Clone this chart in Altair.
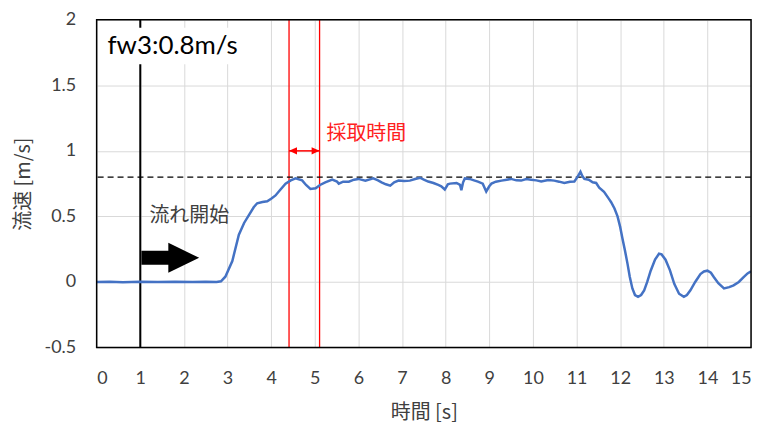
import altair as alt
import pandas as pd

# ---- data ----
t = [0, 0.3, 0.6, 1.0, 1.4, 1.8, 2.2, 2.5, 2.75, 2.85,
     2.95, 3.11, 3.26, 3.38, 3.49, 3.6, 3.68, 3.8, 3.91, 4.0,
     4.1, 4.2, 4.33, 4.45, 4.56, 4.71, 4.8, 4.9, 5.02, 5.12,
     5.24, 5.4, 5.51, 5.55, 5.65, 5.78, 5.9, 6.0, 6.16, 6.34,
     6.45, 6.53, 6.63, 6.73, 6.82, 6.92, 7.05, 7.18, 7.3, 7.41,
     7.5, 7.6, 7.72, 7.83, 7.9, 7.98, 8.05, 8.1, 8.25, 8.33,
     8.36, 8.4, 8.44, 8.55, 8.65, 8.74, 8.85, 8.93, 9.0, 9.05,
     9.15, 9.28, 9.4, 9.5, 9.62, 9.73, 9.85, 9.96, 10.08, 10.19,
     10.35, 10.49, 10.6, 10.72, 10.85, 10.95, 11.02, 11.09, 11.13, 11.18,
     11.28, 11.37, 11.45, 11.52, 11.63, 11.75, 11.79, 11.87, 11.94, 12.0,
     12.05, 12.11, 12.17, 12.22, 12.28, 12.34, 12.41, 12.48, 12.55, 12.62,
     12.7, 12.8, 12.89, 12.95, 13.04, 13.14, 13.24, 13.35, 13.46, 13.53,
     13.61, 13.72, 13.84, 13.92, 14.0, 14.08, 14.15, 14.25, 14.38, 14.5,
     14.6, 14.72, 14.83, 14.92, 15.0]
v = [0.0, 0.002, -0.002, 0.001, 0.0, 0.002, -0.001, 0.001, 0.0, 0.005,
     0.04, 0.16, 0.36, 0.45, 0.51, 0.57, 0.6, 0.61, 0.615, 0.635,
     0.66, 0.7, 0.75, 0.775, 0.79, 0.775, 0.74, 0.71, 0.715, 0.74,
     0.76, 0.78, 0.765, 0.75, 0.765, 0.765, 0.78, 0.786, 0.773, 0.79,
     0.775, 0.76, 0.745, 0.735, 0.76, 0.773, 0.77, 0.773, 0.785, 0.795,
     0.78, 0.766, 0.755, 0.74, 0.73, 0.705, 0.745, 0.75, 0.755, 0.74,
     0.70, 0.76, 0.79, 0.786, 0.775, 0.765, 0.75, 0.69, 0.73, 0.75,
     0.765, 0.773, 0.78, 0.786, 0.775, 0.773, 0.785, 0.78, 0.775, 0.766,
     0.778, 0.773, 0.765, 0.755, 0.765, 0.766, 0.8, 0.84, 0.81, 0.786,
     0.78, 0.76, 0.755, 0.72, 0.687, 0.63, 0.61, 0.56, 0.5, 0.42,
     0.336, 0.24, 0.136, 0.04, -0.05, -0.1, -0.114, -0.1, -0.064, 0.0,
     0.086, 0.17, 0.215, 0.21, 0.17, 0.09, -0.014, -0.09, -0.114, -0.1,
     -0.064, 0.0, 0.06, 0.08, 0.086, 0.07, 0.036, -0.01, -0.05, -0.04,
     -0.026, 0.0, 0.036, 0.065, 0.08]

x_ticks = list(range(0, 16))
y_ticks = [-0.5, 0, 0.5, 1, 1.5, 2]

start_time = [1.0]
sample_window = [4.41, 5.11]
target_speed = [0.8]

label_title = "fw3:0.8m/s"
label_start = "流れ開始"
label_sample = "採取時間"

JP = "Noto Sans CJK JP"
NUM = "Lato"
GREY = "#404040"

df = pd.DataFrame({"t": t, "v": v})

xs = alt.Scale(domain=[0, 15], nice=False, zero=False)
ys = alt.Scale(domain=[-0.5, 2], nice=False, zero=False)

base = alt.Chart(df)

line = base.mark_line(color="#4472C4", strokeWidth=2.5, clip=True).encode(
    x=alt.X("t:Q", scale=xs,
            axis=alt.Axis(values=x_ticks, title="時間 [s]", labelExpr="'' + datum.value")),
    y=alt.Y("v:Q", scale=ys,
            axis=alt.Axis(values=y_ticks, title="流速 [m/s]", labelExpr="'' + datum.value")),
)

red_lines = alt.Chart(pd.DataFrame({"x": sample_window})).mark_rule(
    color="#ff0000", strokeWidth=1.3).encode(x=alt.X("x:Q", scale=xs))

start_line = alt.Chart(pd.DataFrame({"x": start_time})).mark_rule(
    color="black", strokeWidth=2).encode(x=alt.X("x:Q", scale=xs))

dashed = alt.Chart(pd.DataFrame({"y": target_speed})).mark_rule(
    color="black", strokeWidth=1.2, strokeDash=[6, 4]).encode(y=alt.Y("y:Q", scale=ys))

# white label box behind the title text
box = alt.Chart(pd.DataFrame({"x": [0.03], "x2": [3.45], "y": [1.66], "y2": [1.94]})).mark_rect(
    color="white").encode(x=alt.X("x:Q", scale=xs), x2="x2:Q",
                          y=alt.Y("y:Q", scale=ys), y2="y2:Q")

# plot-area frame drawn above the grid
frame = alt.Chart(pd.DataFrame({"x": [0], "x2": [15], "y": [-0.5], "y2": [2]})).mark_rect(
    fill=None, fillOpacity=0, stroke="black", strokeWidth=1.5).encode(
    x=alt.X("x:Q", scale=xs), x2="x2:Q", y=alt.Y("y:Q", scale=ys), y2="y2:Q")

title_txt = alt.Chart(pd.DataFrame({"x": [0.25], "y": [1.80], "s": [label_title]})).mark_text(
    align="left", baseline="middle", font=NUM, fontSize=26, color="black").encode(
    x=alt.X("x:Q", scale=xs), y=alt.Y("y:Q", scale=ys), text="s:N")

start_txt = alt.Chart(pd.DataFrame({"x": [1.21], "y": [0.5], "s": [label_start]})).mark_text(
    align="left", baseline="middle", font=JP, fontSize=20, color=GREY).encode(
    x=alt.X("x:Q", scale=xs), y=alt.Y("y:Q", scale=ys), text="s:N")

sample_txt = alt.Chart(pd.DataFrame({"x": [5.27], "y": [1.13], "s": [label_sample]})).mark_text(
    align="left", baseline="middle", font=JP, fontSize=20, color="#ff2020").encode(
    x=alt.X("x:Q", scale=xs), y=alt.Y("y:Q", scale=ys), text="s:N")

# red double arrow for the sampling window
dbl = alt.Chart(pd.DataFrame({"x": [sample_window[0]], "x2": [sample_window[1]], "y": [1.0]})).mark_rule(
    color="#ff0000", strokeWidth=1.5).encode(x=alt.X("x:Q", scale=xs), x2="x2:Q",
                                             y=alt.Y("y:Q", scale=ys))
head_r = alt.Chart(pd.DataFrame({"x": [sample_window[1]], "y": [1.0]})).mark_point(
    shape="M0,0 L-1,-0.45 L-1,0.45 Z", size=256, filled=True, color="#ff0000", opacity=1,
    strokeWidth=0).encode(x=alt.X("x:Q", scale=xs), y=alt.Y("y:Q", scale=ys))
head_l = alt.Chart(pd.DataFrame({"x": [sample_window[0]], "y": [1.0]})).mark_point(
    shape="M0,0 L1,-0.45 L1,0.45 Z", size=256, filled=True, color="#ff0000", opacity=1,
    strokeWidth=0).encode(x=alt.X("x:Q", scale=xs), y=alt.Y("y:Q", scale=ys))

# black block arrow (tip position)
block = alt.Chart(pd.DataFrame({"x": [2.35], "y": [0.184]})).mark_point(
    shape="M0,0 L-0.534,-0.259 L-0.534,-0.121 L-1,-0.121 L-1,0.121 L-0.534,0.121 L-0.534,0.259 Z",
    size=13456, filled=True, color="black", opacity=1, strokeWidth=0).encode(
    x=alt.X("x:Q", scale=xs), y=alt.Y("y:Q", scale=ys))

chart = alt.layer(
    red_lines, start_line, dashed, line, box, frame, title_txt, start_txt, sample_txt,
    dbl, head_r, head_l, block
).properties(
    width=657, height=329,
    autosize=alt.AutoSizeParams(type="none"),
    padding={"left": 89, "top": 11, "right": 10, "bottom": 78},
).configure_view(
    stroke=None
).configure_axis(
    grid=True, gridColor="#d9d9d9", gridWidth=1, domain=False, ticks=False,
    labelFont=NUM, labelFontSize=18, labelColor=GREY,
    titleFont=JP, titleFontSize=20, titleColor=GREY, titleFontWeight="normal",
).configure_axisX(
    labelPadding=22, titlePadding=15
).configure_axisY(
    labelPadding=21, titlePadding=11
)

chart.save("out.html", embed_options={"renderer": "svg", "actions": False})
